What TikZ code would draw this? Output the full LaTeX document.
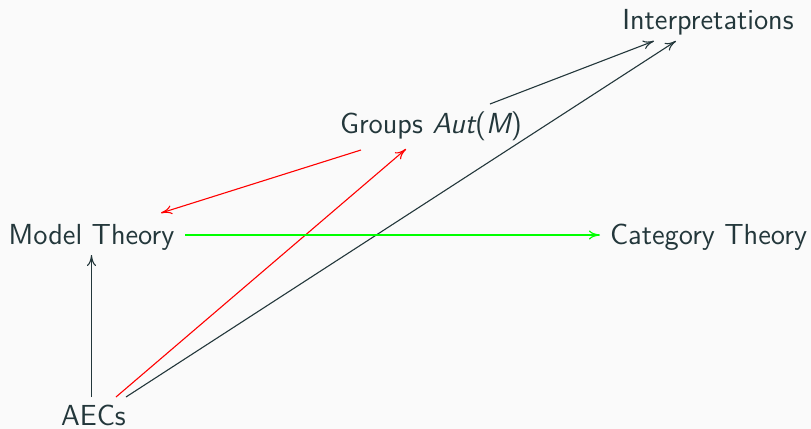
\documentclass[tikz,border=0pt]{standalone}
\usetikzlibrary{arrows.meta}
\definecolor{fgdark}{HTML}{23373B}
\definecolor{bgpage}{HTML}{FAFAFA}
\begin{document}
\begin{tikzpicture}[x=0.5pt,y=-0.5pt,
  lbl/.style={anchor=base,inner sep=0pt,text=fgdark,font=\sffamily\fontsize{14.5}{17}\selectfont},
  conn/.style={-{To[length=5.5pt,width=4.5pt]},line width=0.55pt},
  dark/.style={conn,draw=fgdark},
  redc/.style={conn,draw=red},
  greenc/.style={conn,draw=green,line width=0.6pt}]
\fill[bgpage] (0,0) rectangle (811,429);
\useasboundingbox (0,0) rectangle (811,429);
\node[lbl] (int) at (708,29) {Interpretations};
\node[lbl] (grp) at (431,133) {Groups {\itshape Aut}({\itshape M})};
\node[lbl] (mt) at (91.5,244) {Model Theory};
\node[lbl] (ct) at (708.5,244) {Category Theory};
\node[lbl] (aec) at (93.5,425) {AECs};
\draw[dark] ([shift={(-2,-28)}]aec.base) -- ([shift={(0,11)}]mt.base);
\draw[redc] ([shift={(22.5,-28)}]aec.base) -- ([shift={(-25,16)}]grp.base);
\draw[dark] ([shift={(32.5,-28)}]aec.base) -- ([shift={(-32,12)}]int.base);
\draw[dark] ([shift={(59,-29)}]grp.base) -- ([shift={(-54,12)}]int.base);
\draw[redc] ([shift={(-70,17)}]grp.base) -- ([shift={(69.5,-31)}]mt.base);
\draw[greenc] ([shift={(93.5,-9)}]mt.base) -- ([shift={(-108.5,-9)}]ct.base);
\end{tikzpicture}
\end{document}
